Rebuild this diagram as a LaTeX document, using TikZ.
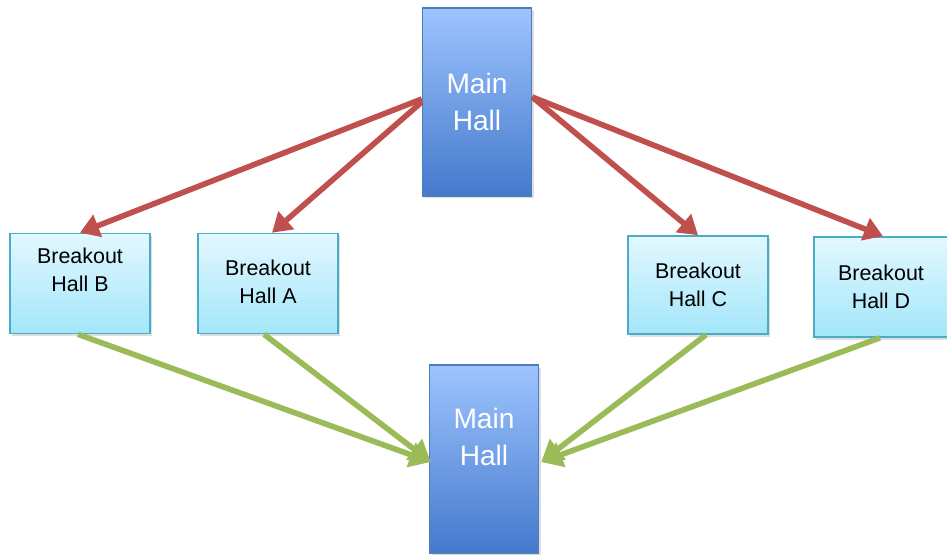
\documentclass[tikz,border=0pt]{standalone}
\usepackage{fontspec}
\setmainfont{Liberation Sans}
\usetikzlibrary{arrows.meta,positioning,calc,shadows}

\definecolor{mainTop}{HTML}{9EC4FF}
\definecolor{mainBot}{HTML}{4479CC}
\definecolor{mainLine}{HTML}{4A7EBB}
\definecolor{brkTop}{HTML}{E2F8FF}
\definecolor{brkBot}{HTML}{A3E6FA}
\definecolor{brkLine}{HTML}{4BACC6}
\definecolor{outRed}{HTML}{C0504D}
\definecolor{inGreen}{HTML}{9BBB59}

\begin{document}
\begin{tikzpicture}[auto,
    mainhall/.style={draw=mainLine, line width=0.8pt, top color=mainTop, bottom color=mainBot,
      minimum width=2.18cm, minimum height=3.76cm, inner sep=0pt,
      drop shadow={opacity=0.25, shadow xshift=0.04cm, shadow yshift=-0.05cm}},
    mainlbl/.style={text=white, align=center, font=\fontsize{16}{20.8}\selectfont},
    breakout/.style={draw=brkLine, line width=0.9pt, top color=brkTop, bottom color=brkBot,
      minimum width=2.8cm, minimum height=2.0cm, inner sep=0pt,
      drop shadow={opacity=0.25, shadow xshift=0.04cm, shadow yshift=-0.05cm}},
    brklbl/.style={text=black, align=center, font=\fontsize{12.2}{15.9}\selectfont},
    goout/.style={draw=outRed, line width=3.2pt, -{Triangle[length=0.38cm,width=0.46cm]}},
    goin/.style={draw=inGreen, line width=3.2pt, -{Triangle[length=0.42cm,width=0.5cm]}}]
  \useasboundingbox (0,0) rectangle (18.94,11.08);

  \node [mainhall, label={[mainlbl, name=main1txt]center:Main\\Hall}] (main1) at (9.54,9.04) {};
  \node [mainhall, label={[mainlbl, name=main2txt, yshift=0.44cm]center:Main\\Hall}] (main2) at (9.68,1.90) {};

  \node [breakout, label={[brklbl, name=hallBtxt, yshift=0.27cm]center:Breakout\\Hall B}] (hallB) at (1.60,5.41) {};
  \node [breakout, label={[brklbl, name=hallAtxt, yshift=0.04cm]center:Breakout\\Hall A}] (hallA) at (5.36,5.41) {};
  \node [breakout, minimum height=1.96cm, label={[brklbl, name=hallCtxt]center:Breakout\\Hall C}] (hallC) at (13.96,5.38) {};
  \node [breakout, minimum width=2.68cm, label={[brklbl, name=hallDtxt]center:Breakout\\Hall D}] (hallD) at (17.62,5.34) {};

  % out of the main hall
  \draw [goout] ($(main1.west)+(0,0.06)$) -- (hallB.north);
  \draw [goout] (main1.west) -- ($(hallA.north)+(0.08,0)$);
  \draw [goout] ($(main1.east)+(0,0.1)$) -- (hallC.north);
  \draw [goout] ($(main1.east)+(0,0.1)$) -- ($(hallD.north)+(0.04,0)$);

  % back to the main hall
  \draw [goin] ($(hallB.south)+(-0.04,0)$) -- ($(main2.west)+(0.04,-0.06)$);
  \draw [goin] ($(hallA.south)+(-0.08,0)$) -- ($(main2.west)+(0.04,-0.06)$);
  \draw [goin] ($(hallC.south)+(0.16,0)$) -- ($(main2.east)+(0.04,-0.06)$);
  \draw [goin] ($(hallD.south)+(-0.02,0)$) -- ($(main2.east)+(0.04,-0.06)$);
\end{tikzpicture}
\end{document}
